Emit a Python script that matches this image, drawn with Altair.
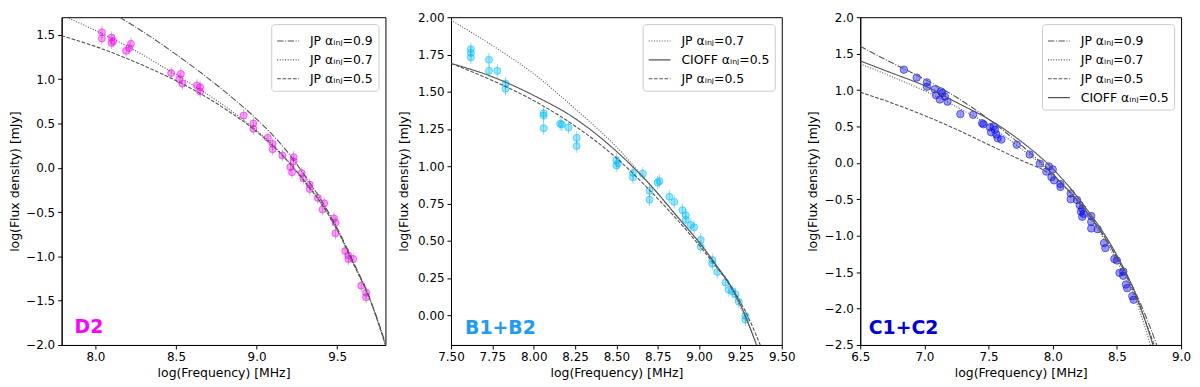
import altair as alt
import pandas as pd

# ---------------- Panel D2 ----------------
D2_X = [8.04, 8.04, 8.10, 8.10, 8.11, 8.19, 8.22, 8.21,
        8.47, 8.53, 8.52, 8.54, 8.63, 8.65, 8.65,
        8.92, 8.98, 8.98, 9.07, 9.10, 9.10, 9.16, 9.23, 9.23, 9.21, 9.22,
        9.28, 9.29, 9.33, 9.33, 9.38, 9.42, 9.41, 9.48, 9.49, 9.49,
        9.55, 9.57, 9.57, 9.60, 9.65, 9.68, 9.68]
D2_Y = [1.53, 1.46, 1.47, 1.41, 1.43, 1.32, 1.40, 1.35,
        1.07, 1.06, 1.00, 0.95, 0.93, 0.91, 0.86,
        0.59, 0.50, 0.44, 0.34, 0.27, 0.21, 0.14, 0.12, 0.07, 0.01, -0.05,
        -0.06, -0.12, -0.19, -0.24, -0.34, -0.40, -0.47, -0.57, -0.62, -0.74,
        -0.94, -0.99, -1.03, -1.03, -1.33, -1.41, -1.46]
D2_ERR = 0.07

D2_JP09_X = [8.15, 8.3, 8.5, 8.7, 8.85, 9.0, 9.1, 9.2, 9.3, 9.4, 9.5, 9.6, 9.7, 9.8]
D2_JP09_Y = [1.70, 1.53, 1.28, 1.01, 0.79, 0.55, 0.37, 0.16, -0.09, -0.36, -0.68, -1.06, -1.46, -1.98]
D2_JP07_X = [7.82, 8.0, 8.2, 8.4, 8.6, 8.8, 9.0, 9.1, 9.2, 9.3, 9.4, 9.5, 9.6, 9.7, 9.8]
D2_JP07_Y = [1.70, 1.55, 1.37, 1.16, 0.94, 0.70, 0.42, 0.26, 0.07, -0.15, -0.39, -0.69, -1.07, -1.47, -2.0]
D2_JP05_X = [7.79, 8.0, 8.2, 8.4, 8.6, 8.8, 9.0, 9.1, 9.2, 9.3, 9.4, 9.5, 9.6, 9.7, 9.8]
D2_JP05_Y = [1.49, 1.37, 1.23, 1.07, 0.89, 0.67, 0.41, 0.25, 0.06, -0.16, -0.40, -0.70, -1.08, -1.47, -2.0]

# ---------------- Panel B1+B2 ----------------
B_X = [7.62, 7.62, 7.62, 7.73, 7.73, 7.78, 7.83, 7.83,
       8.06, 8.06, 8.06, 8.16, 8.17, 8.21, 8.26, 8.26,
       8.50, 8.50, 8.51, 8.60, 8.60, 8.66, 8.70, 8.70, 8.75, 8.76, 8.82, 8.85,
       8.90, 8.92, 8.92, 8.95, 8.97, 9.01, 9.01, 9.08, 9.08, 9.11,
       9.16, 9.18, 9.20, 9.22, 9.24, 9.28, 9.28]
B_Y = [1.785, 1.76, 1.73, 1.715, 1.64, 1.64, 1.555, 1.52,
       1.355, 1.34, 1.255, 1.285, 1.28, 1.26, 1.19, 1.135,
       1.04, 1.005, 1.02, 0.955, 0.925, 0.95, 0.835, 0.775, 0.89, 0.90, 0.795, 0.76,
       0.705, 0.67, 0.64, 0.605, 0.59, 0.46, 0.505, 0.345, 0.37, 0.29,
       0.22, 0.17, 0.16, 0.14, 0.09, -0.005, -0.03]
B_ERR = 0.045

B_JP07_X = [7.5, 7.75, 8.0, 8.25, 8.5, 8.7, 8.9, 9.0, 9.1, 9.2, 9.3, 9.35]
B_JP07_Y = [1.98, 1.81, 1.62, 1.385, 1.13, 0.88, 0.62, 0.49, 0.34, 0.17, -0.07, -0.20]
B_CIOFF_X = [7.5, 7.75, 8.0, 8.25, 8.5, 8.7, 8.9, 9.0, 9.1, 9.2, 9.3, 9.35]
B_CIOFF_Y = [1.69, 1.60, 1.475, 1.32, 1.10, 0.88, 0.62, 0.49, 0.34, 0.18, -0.06, -0.21]
B_JP05_X = [7.5, 7.75, 8.0, 8.25, 8.5, 8.7, 8.9, 9.0, 9.1, 9.2, 9.3, 9.37]
B_JP05_Y = [1.69, 1.575, 1.44, 1.27, 1.055, 0.84, 0.60, 0.47, 0.33, 0.18, -0.02, -0.20]

# ---------------- Panel C1+C2 ----------------
C_X = [6.84, 6.94, 7.02, 7.02, 7.08, 7.09, 7.13, 7.14, 7.12, 7.16, 7.18,
       7.28, 7.38, 7.45, 7.46, 7.51, 7.52, 7.55, 7.56, 7.57, 7.54, 7.60,
       7.72, 7.82, 7.90, 7.97, 8.00, 7.95, 7.99, 8.01, 8.06, 8.06,
       8.14, 8.14, 8.19, 8.21, 8.23, 8.22, 8.24, 8.23, 8.30, 8.30, 8.30, 8.35,
       8.40, 8.41, 8.48, 8.50, 8.52, 8.55, 8.55, 8.57, 8.58, 8.62, 8.63]
C_Y = [1.28, 1.17, 1.105, 1.045, 1.01, 0.93, 0.98, 0.96, 0.87, 0.91, 0.84,
       0.67, 0.66, 0.545, 0.53, 0.49, 0.42, 0.455, 0.39, 0.34, 0.50, 0.32,
       0.25, 0.115, -0.01, -0.05, -0.09, -0.12, -0.195, -0.24, -0.29, -0.33,
       -0.42, -0.50, -0.51, -0.58, -0.63, -0.67, -0.70, -0.74, -0.73, -0.81, -0.90, -0.91,
       -1.10, -1.17, -1.32, -1.34, -1.51, -1.49, -1.55, -1.67, -1.72, -1.83, -1.88]
C_ERR = 0.04

C_JP09_X = [6.5, 6.75, 7.0, 7.25, 7.5, 7.75, 8.0, 8.25, 8.5, 8.65, 8.8, 8.82]
C_JP09_Y = [1.60, 1.37, 1.15, 0.90, 0.60, 0.25, -0.15, -0.64, -1.30, -1.80, -2.45, -2.55]
C_JP07_X = [6.5, 6.75, 7.0, 7.25, 7.5, 7.75, 8.0, 8.25, 8.5, 8.65, 8.77]
C_JP07_Y = [1.36, 1.18, 0.99, 0.77, 0.52, 0.20, -0.16, -0.66, -1.35, -1.90, -2.55]
C_JP05_X = [6.5, 6.75, 7.0, 7.25, 7.5, 7.75, 8.0, 8.25, 8.5, 8.65, 8.80]
C_JP05_Y = [0.97, 0.82, 0.65, 0.46, 0.25, 0.04, -0.18, -0.64, -1.30, -1.85, -2.55]
C_CIOFF_X = [6.5, 6.75, 7.0, 7.25, 7.5, 7.75, 8.0, 8.25, 8.5, 8.65, 8.79]
C_CIOFF_Y = [1.40, 1.23, 1.06, 0.83, 0.60, 0.30, -0.08, -0.60, -1.27, -1.82, -2.55]

LBL09 = "JP αᵢₙⱼ=0.9"
LBL07 = "JP αᵢₙⱼ=0.7"
LBL05 = "JP αᵢₙⱼ=0.5"
LBLC = "CIOFF αᵢₙⱼ=0.5"

DASH = {LBL09: [6.4, 1.6, 1, 1.6], LBL07: [1, 1.65], LBL05: [3.7, 1.6], LBLC: [1, 0]}

LINE_COLOR = "#555555"
FONT = "DejaVu Sans"


def panel(px, py, err, color, errcolor, size, curves, xdom, ydom, xticks, yticks,
          xfmt, yfmt, tag, tag_x, tag_y, tag_color, width, height, ytitle_pad):
    pts = pd.DataFrame({"x": px, "y": py})
    pts["lo"] = pts["y"] - err
    pts["hi"] = pts["y"] + err
    rows = []
    order = []
    for lbl, cx, cy in curves:
        order.append(lbl)
        for a, b in zip(cx, cy):
            rows.append({"model": lbl, "x": a, "y": b})
    cdf = pd.DataFrame(rows)

    xs = alt.Scale(domain=xdom, nice=False, zero=False)
    ys = alt.Scale(domain=ydom, nice=False, zero=False)

    def xax():
        return alt.Axis(values=xticks, format=xfmt, title="log(Frequency) [MHz]",
                        labelOverlap=False, labelFlush=False)

    def yax():
        return alt.Axis(values=yticks, format=yfmt, title="log(Flux density) [mJy]",
                        titlePadding=ytitle_pad, labelOverlap=False, labelFlush=False)

    errs = alt.Chart(pts).mark_rule(color=errcolor, strokeWidth=1, opacity=0.5, clip=True).encode(
        x=alt.X("x:Q", scale=xs, axis=xax()),
        y=alt.Y("lo:Q", scale=ys, axis=yax()),
        y2="hi:Q",
    )
    dots = alt.Chart(pts).mark_point(
        filled=True, shape="circle", size=size, fill=color, fillOpacity=0.38,
        stroke=color, strokeOpacity=0.55, strokeWidth=1, clip=True
    ).encode(x=alt.X("x:Q", scale=xs, axis=xax()), y=alt.Y("y:Q", scale=ys, axis=yax()))

    lines = alt.Chart(cdf).mark_line(
        color=LINE_COLOR, strokeWidth=1.1, clip=True, interpolate="monotone"
    ).encode(
        x=alt.X("x:Q", scale=xs, axis=xax()),
        y=alt.Y("y:Q", scale=ys, axis=yax()),
        strokeDash=alt.StrokeDash(
            "model:N",
            scale=alt.Scale(domain=order, range=[DASH[o] for o in order]),
            sort=order,
            legend=alt.Legend(
                orient="top-right", title=None, symbolType="stroke", symbolSize=484,
                symbolStrokeColor=LINE_COLOR, symbolStrokeWidth=1.1,
                labelFontSize=12.5, labelFont=FONT, labelColor="black", labelOffset=10,
                strokeColor="#cccccc", fillColor="white", cornerRadius=3,
                padding=5, rowPadding=0, offset=7, labelLimit=200,
            ),
        ),
    )
    tdf = pd.DataFrame({"x": [tag_x], "y": [tag_y], "t": [tag]})
    text = alt.Chart(tdf).mark_text(
        align="left", baseline="middle", fontSize=19, fontWeight="bold", font=FONT, color=tag_color
    ).encode(x=alt.X("x:Q", scale=xs, axis=xax()), y=alt.Y("y:Q", scale=ys, axis=yax()), text="t:N")

    return alt.layer(errs, dots, lines, text).properties(width=width, height=height)


p1 = panel(D2_X, D2_Y, D2_ERR, "#ff00ff", "#888888", 50,
           [(LBL09, D2_JP09_X, D2_JP09_Y), (LBL07, D2_JP07_X, D2_JP07_Y), (LBL05, D2_JP05_X, D2_JP05_Y)],
           [7.79, 9.80], [-2.0, 1.7], [8.0, 8.5, 9.0, 9.5], [-2.0, -1.5, -1.0, -0.5, 0.0, 0.5, 1.0, 1.5],
           ".1f", ".1f", "D2", 7.87, -1.80, "#ff00ff", 326, 330, 4)

p2 = panel(B_X, B_Y, B_ERR, "#00bfff", "#00bfff", 50,
           [(LBL07, B_JP07_X, B_JP07_Y), (LBLC, B_CIOFF_X, B_CIOFF_Y), (LBL05, B_JP05_X, B_JP05_Y)],
           [7.5, 9.5], [-0.2, 2.0], [7.5, 7.75, 8.0, 8.25, 8.5, 8.75, 9.0, 9.25, 9.5],
           [0.0, 0.25, 0.5, 0.75, 1.0, 1.25, 1.5, 1.75, 2.0],
           ".2f", ".2f", "B1+B2", 7.585, -0.085, "#1f9bf5", 333, 330, 7)

p3 = panel(C_X, C_Y, C_ERR, "#0000ff", "#aaaaaa", 56,
           [(LBL09, C_JP09_X, C_JP09_Y), (LBL07, C_JP07_X, C_JP07_Y), (LBL05, C_JP05_X, C_JP05_Y),
            (LBLC, C_CIOFF_X, C_CIOFF_Y)],
           [6.5, 9.0], [-2.5, 2.0], [6.5, 7.0, 7.5, 8.0, 8.5, 9.0],
           [-2.5, -2.0, -1.5, -1.0, -0.5, 0.0, 0.5, 1.0, 1.5, 2.0],
           ".1f", ".1f", "C1+C2", 6.566, -2.265, "#0000dd", 323, 330, 5)

chart = alt.hconcat(p1, p2, p3, spacing=10).resolve_scale(
    x="independent", y="independent", strokeDash="independent"
).resolve_legend(strokeDash="independent").properties(
    padding={"left": 0, "top": 1, "right": 0, "bottom": 0}
).configure(font=FONT).configure_view(
    stroke="black", strokeWidth=1
).configure_axis(
    labelFont=FONT, titleFont=FONT, labelFontSize=12, titleFontSize=12.5,
    labelColor="black", titleColor="black", titleFontWeight="normal",
    grid=False, tickColor="black", domainColor="black", tickSize=4, labelPadding=3,
    labelOverlap=False,
)

chart.save("out.html", embed_options={"renderer": "svg", "actions": False})
